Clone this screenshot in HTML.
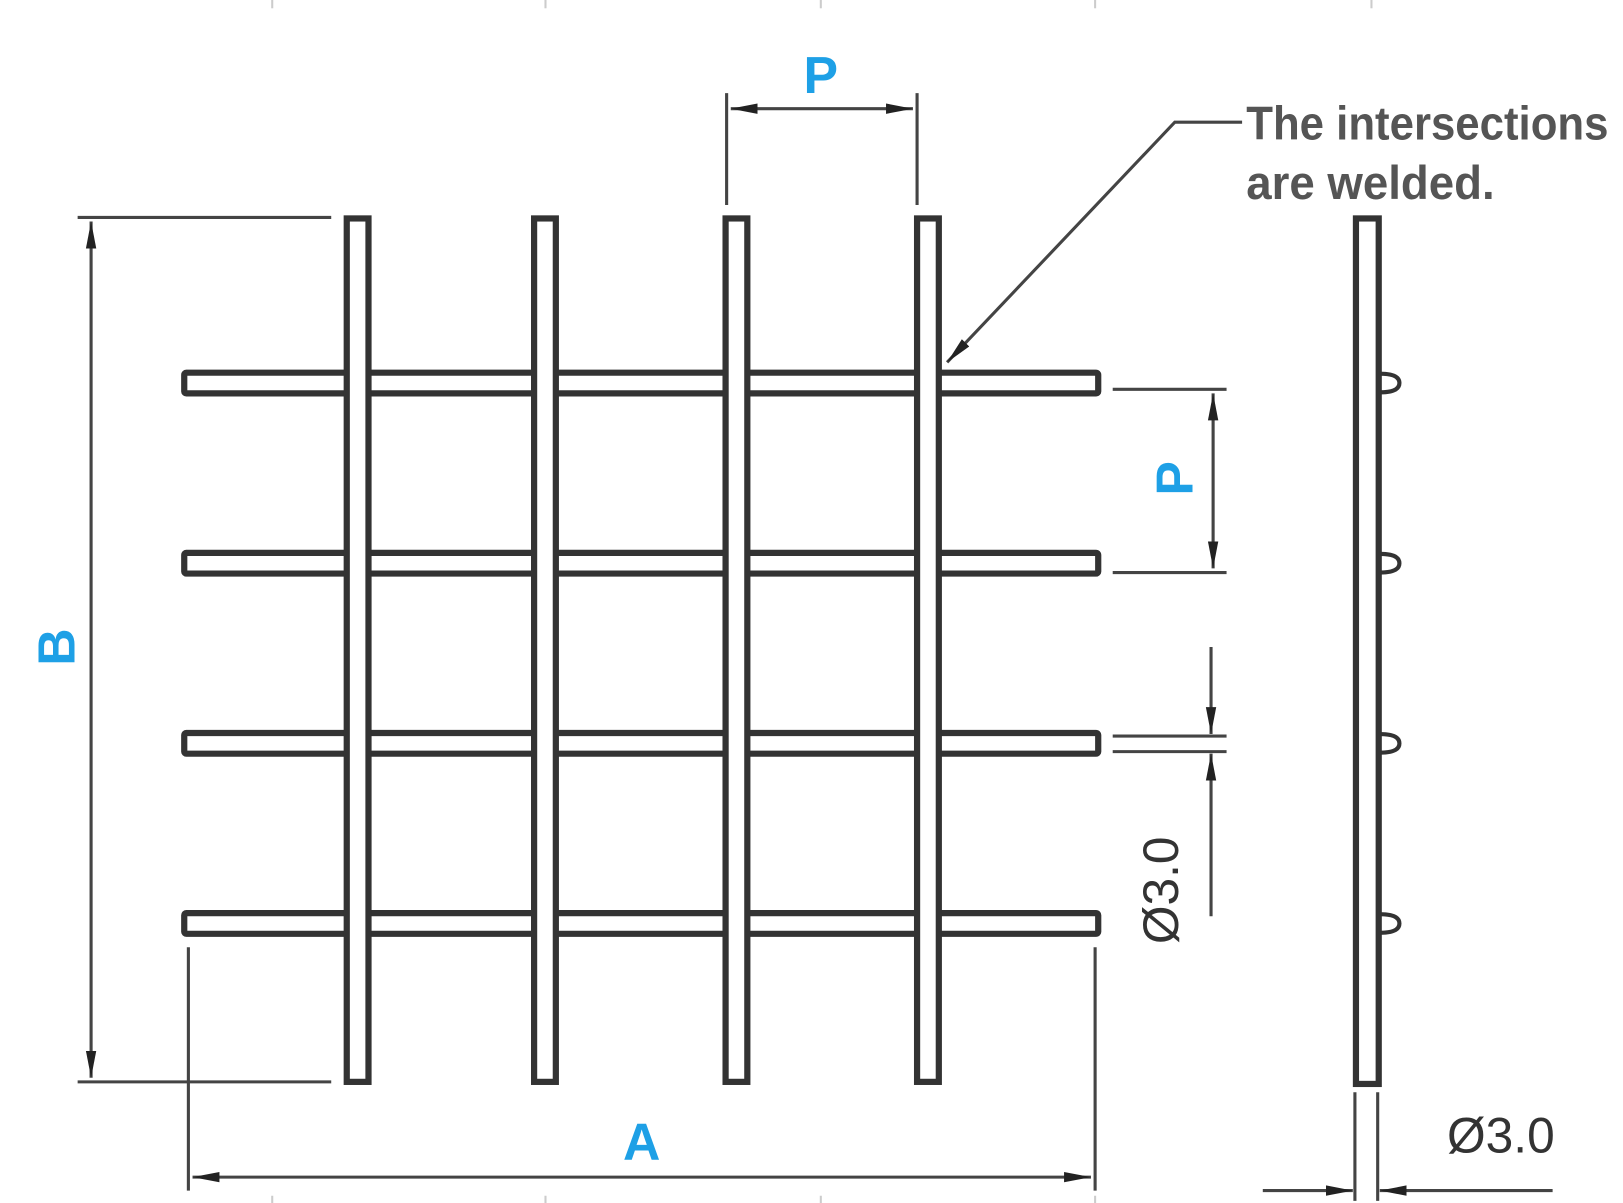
<!DOCTYPE html>
<html><head><meta charset="utf-8"><style>
html,body{margin:0;padding:0;background:#fff;}
svg{display:block;}
</style></head><body>
<svg width="1623" height="1203" viewBox="0 0 1568 1162" preserveAspectRatio="none" xmlns="http://www.w3.org/2000/svg">
<defs>
<marker id="ar" viewBox="0 0 26 12" refX="26" refY="6" markerWidth="26" markerHeight="12" markerUnits="userSpaceOnUse" orient="auto-start-reverse">
<path d="M0,1 L26,6 L0,11 z" fill="#222"/></marker>
</defs>
<g stroke="#ccc" stroke-width="2">
<line x1="263" y1="0" x2="263" y2="8"/><line x1="527" y1="0" x2="527" y2="8"/><line x1="793" y1="0" x2="793" y2="8"/><line x1="1058" y1="0" x2="1058" y2="8"/><line x1="1325" y1="0" x2="1325" y2="8"/>
<line x1="263" y1="1155" x2="263" y2="1162"/><line x1="527" y1="1155" x2="527" y2="1162"/><line x1="793" y1="1155" x2="793" y2="1162"/><line x1="1058" y1="1155" x2="1058" y2="1162"/>
</g>
<g fill="#fff" stroke="#333" stroke-width="6">
<rect x="178" y="360" width="883" height="20" rx="2"/>
<rect x="178" y="534" width="883" height="20" rx="2"/>
<rect x="178" y="708" width="883" height="20" rx="2"/>
<rect x="178" y="882" width="883" height="20" rx="2"/>
<rect x="335" y="211" width="21" height="834"/>
<rect x="516" y="211" width="21" height="834"/>
<rect x="701" y="211" width="21" height="834"/>
<rect x="886" y="211" width="21" height="834"/>
<path d="M1333,361 Q1352,361 1352,370 Q1352,379 1333,379 M1333,535 Q1352,535 1352,544 Q1352,553 1333,553 M1333,709 Q1352,709 1352,718 Q1352,727 1333,727 M1333,883 Q1352,883 1352,892 Q1352,901 1333,901" stroke-width="4"/>
<rect x="1310" y="211" width="22" height="836"/>
</g>
<g stroke="#444" stroke-width="3" fill="none">
<line x1="75" y1="210" x2="320" y2="210"/><line x1="75" y1="1045" x2="320" y2="1045"/>
<line x1="88" y1="214" x2="88" y2="1041" marker-start="url(#ar)" marker-end="url(#ar)"/>
<line x1="182" y1="915" x2="182" y2="1150"/><line x1="1058" y1="915" x2="1058" y2="1150"/>
<line x1="186" y1="1137" x2="1054" y2="1137" marker-start="url(#ar)" marker-end="url(#ar)"/>
<line x1="702" y1="90" x2="702" y2="198"/><line x1="886" y1="90" x2="886" y2="198"/>
<line x1="706" y1="105" x2="882" y2="105" marker-start="url(#ar)" marker-end="url(#ar)"/>
<line x1="1075" y1="376" x2="1185" y2="376"/><line x1="1075" y1="553" x2="1185" y2="553"/>
<line x1="1172" y1="380" x2="1172" y2="549" marker-start="url(#ar)" marker-end="url(#ar)"/>
<line x1="1075" y1="711" x2="1185" y2="711"/><line x1="1075" y1="726" x2="1185" y2="726"/>
<line x1="1170" y1="625" x2="1170" y2="709" marker-end="url(#ar)"/>
<line x1="1170" y1="885" x2="1170" y2="728" marker-end="url(#ar)"/>
<line x1="1309" y1="1055" x2="1309" y2="1160"/><line x1="1331" y1="1055" x2="1331" y2="1160"/>
<line x1="1220" y1="1150" x2="1307" y2="1150" marker-end="url(#ar)"/>
<line x1="1500" y1="1150" x2="1333" y2="1150" marker-end="url(#ar)"/>
<polyline points="1200,118 1135,118 915,350" marker-end="url(#ar)"/>
</g>
<g fill="#1ea0e6" font-family="Liberation Sans, sans-serif" font-weight="bold" font-size="50" text-anchor="middle">
<text x="793" y="90">P</text>
<text x="620" y="1120">A</text>
<text transform="translate(72,625) rotate(-90)">B</text>
<text transform="translate(1152,462) rotate(-90)">P</text>
</g>
<g fill="#333" font-family="Liberation Sans, sans-serif" font-size="48">
<text x="1398" y="1113">Ø3.0</text>
<text transform="translate(1138,912) rotate(-90)">Ø3.0</text>
</g>
<g fill="#555" font-family="Liberation Sans Narrow, Liberation Sans, sans-serif" font-weight="bold" font-size="46">
<text x="1204" y="135" textLength="350" lengthAdjust="spacingAndGlyphs">The intersections</text>
<text x="1204" y="192" textLength="240" lengthAdjust="spacingAndGlyphs">are welded.</text>
</g>
</svg>
</body></html>
